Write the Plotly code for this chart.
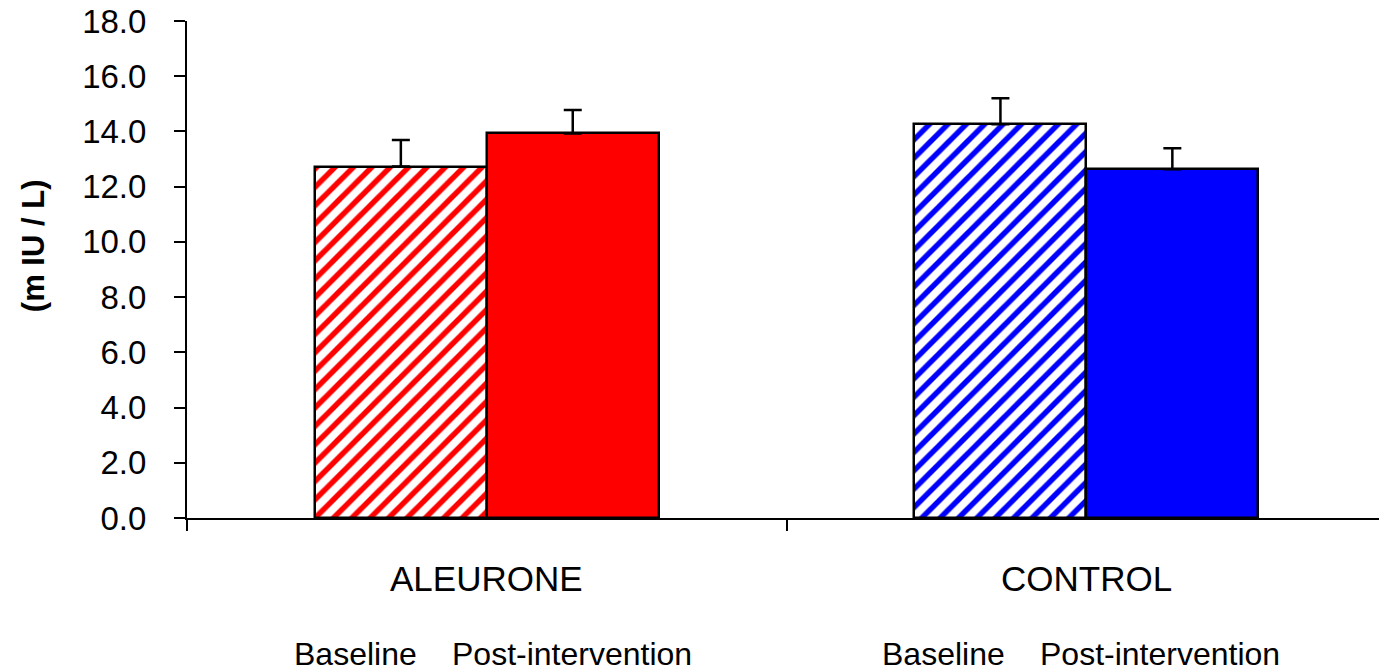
import plotly.graph_objects as go

groups = ["ALEURONE", "CONTROL"]
series_names = ["Baseline", "Post-intervention"]
baseline = [12.73, 14.26]
post = [13.93, 12.63]
baseline_err = [0.96, 0.94]
post_err = [0.85, 0.76]
y_ticks = [0, 2, 4, 6, 8, 10, 12, 14, 16, 18]
group_colors = ["#FF0000", "#0000FF"]
# label positions (x, in category units) for series names under each group
series_label_x = [[-0.219, 0.1425], [0.7625, 1.1225]]

xpos = list(range(len(groups)))
FONT = "Liberation Sans, Arial, sans-serif"
BW = 0.2867

fig = go.Figure()
for i in range(len(groups)):
    color = group_colors[i]
    fig.add_trace(go.Bar(
        x=[xpos[i] - BW / 2], y=[baseline[i]], width=BW,
        marker=dict(color="white", line=dict(color="black", width=2.5),
                    pattern=dict(shape="/", fgcolor=color, bgcolor="white",
                                 fgopacity=1, size=13, solidity=0.42,
                                 fillmode="replace")),
        error_y=dict(type="data", array=[baseline_err[i]], arrayminus=[0],
                     symmetric=False, color="black", thickness=2.5, width=9),
        showlegend=False, name=series_names[0]))
    fig.add_trace(go.Bar(
        x=[xpos[i] + BW / 2], y=[post[i]], width=BW,
        marker=dict(color=color, line=dict(color="black", width=2.5)),
        error_y=dict(type="data", array=[post_err[i]], arrayminus=[0],
                     symmetric=False, color="black", thickness=2.5, width=9),
        showlegend=False, name=series_names[1]))

annotations = []
for i, g in enumerate(groups):
    annotations.append(dict(x=xpos[i], y=-0.121, xref="x", yref="paper",
                            text=g, showarrow=False,
                            font=dict(size=35, family=FONT, color="black"),
                            yanchor="middle"))
    for j in range(2):
        annotations.append(dict(x=series_label_x[i][j], y=-0.273, xref="x", yref="paper",
                                text=series_names[j], showarrow=False,
                                font=dict(size=32, family=FONT, color="black"),
                                yanchor="middle"))
annotations.append(dict(x=-0.1292, y=0.549, xref="paper", yref="paper",
                        xanchor="center", yanchor="middle",
                        text="<b>(m IU / L)</b>", textangle=-90, showarrow=False,
                        font=dict(size=31, family=FONT, color="black")))

fig.update_layout(
    width=1379, height=669,
    margin=dict(l=187, r=0, t=21, b=151),
    paper_bgcolor="white", plot_bgcolor="white",
    bargap=0, barmode="overlay",
    annotations=annotations,
    font=dict(family=FONT, color="black"),
)
fig.update_xaxes(range=[-0.5, 1.488], showgrid=False, zeroline=False,
                 showline=True, linecolor="black", linewidth=2,
                 tickmode="array", tickvals=[-0.5, 0.5, 1.5], ticktext=["", "", ""],
                 ticks="outside", ticklen=11, tickwidth=2, tickcolor="black")
fig.update_yaxes(range=[0, 18], showgrid=False, zeroline=False,
                 showline=True, linecolor="black", linewidth=2,
                 tickmode="array", tickvals=y_ticks, ticktext=[f"{v:.1f}" for v in y_ticks],
                 ticks="outside", ticklen=11, tickwidth=2, tickcolor="black",
                 tickfont=dict(size=33, family=FONT, color="black"),
                 ticklabelstandoff=21)

fig.write_html("out.html", config={"displayModeBar": False},
               post_script="document.body.style.margin='0';document.body.style.overflow='hidden';")
